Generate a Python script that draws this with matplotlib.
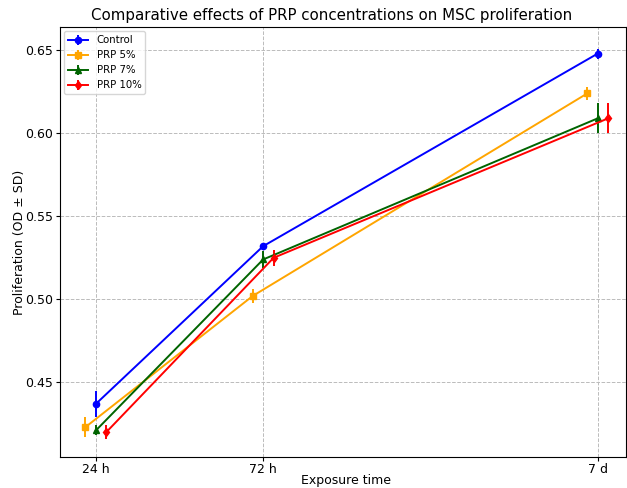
import numpy as np
import matplotlib
matplotlib.use("Agg")
import matplotlib.pyplot as plt

# exposure times in hours (24 h, 72 h, 7 d)
hours = np.array([24, 72, 168])
tick_labels = ["24 h", "72 h", "7 d"]

control = [0.437, 0.532, 0.648]
control_sd = [0.008, 0.002, 0.003]
prp5 = [0.423, 0.502, 0.624]
prp5_sd = [0.006, 0.004, 0.004]
prp7 = [0.421, 0.524, 0.609]
prp7_sd = [0.003, 0.005, 0.009]
prp10 = [0.420, 0.525, 0.609]
prp10_sd = [0.004, 0.005, 0.009]

fig = plt.figure(figsize=[6.27, 4.88], dpi=100)
ax = fig.add_axes([0.0957, 0.0635, 0.903, 0.881])

series = [
    ("Control", control, control_sd, 0, "blue", "o"),
    ("PRP 5%", prp5, prp5_sd, -3, "orange", "s"),
    ("PRP 7%", prp7, prp7_sd, 0, "darkgreen", "^"),
    ("PRP 10%", prp10, prp10_sd, 3, "red", "d"),
]
for label, vals, sd, shift, color, marker in series:
    ax.errorbar(hours + shift, vals, yerr=sd, label=label, color=color,
                marker=marker, markersize=4.5, linewidth=1.4, elinewidth=1.4)

ax.set_xticks(hours)
ax.set_xticklabels(tick_labels)
ax.set_xlim(13.7, 176.2)
ax.set_ylim(0.405, 0.664)
ax.set_yticks([0.45, 0.50, 0.55, 0.60, 0.65])
ax.yaxis.set_major_formatter(matplotlib.ticker.FormatStrFormatter("%.2f"))
ax.tick_params(labelsize=9, length=3, pad=2)
ax.tick_params(axis="x", pad=1)
ax.grid(True, linestyle="--", color="#bbbbbb", linewidth=0.7)
ax.set_xlabel("Exposure time", fontsize=9)
ax.xaxis.set_label_coords(0.505, -0.04)
ax.set_ylabel("Proliferation (OD ± SD)", fontsize=9)
ax.yaxis.set_label_coords(-0.06, 0.5)
ax.set_title("Comparative effects of PRP concentrations on MSC proliferation",
             fontsize=10.8, pad=5, x=0.48)
ax.legend(loc="upper left", fontsize=7.3, borderaxespad=0.4)

fig.savefig("out.png", dpi=100)
